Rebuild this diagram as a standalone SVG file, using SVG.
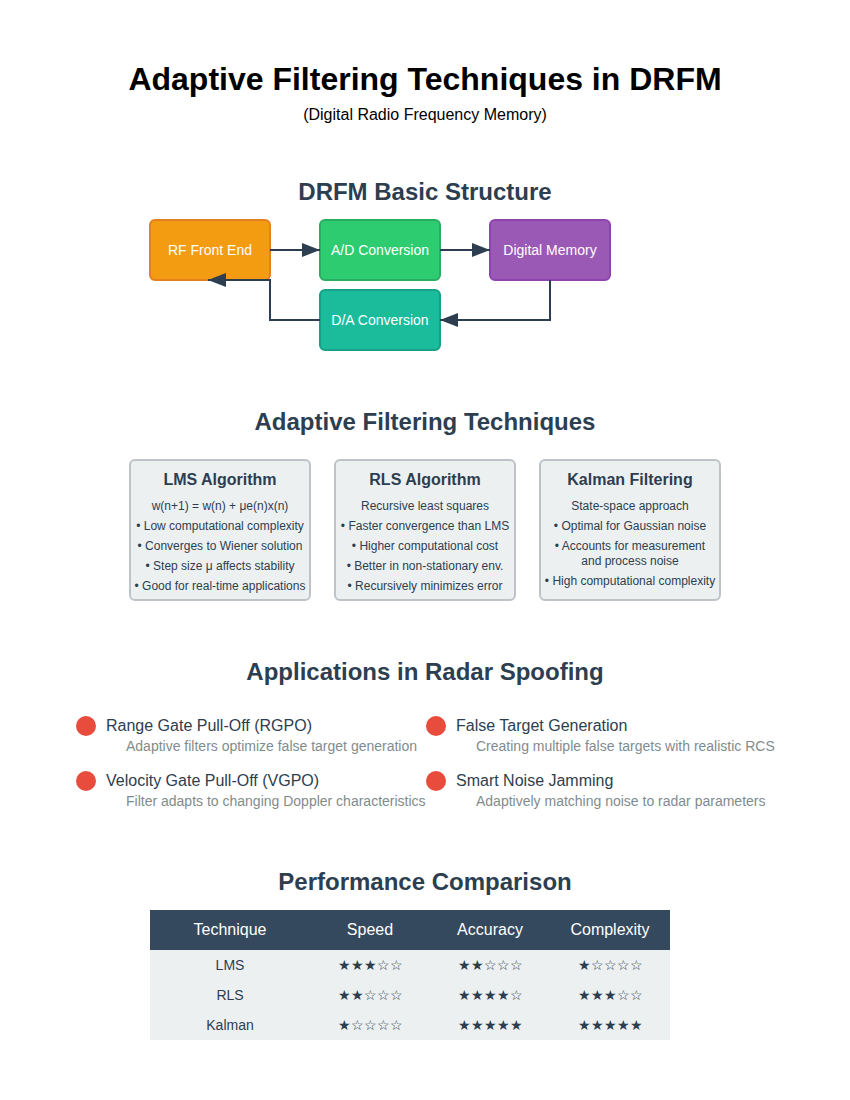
<svg xmlns="http://www.w3.org/2000/svg" width="850" height="1100" viewBox="0 0 850 1100">
<style>
text{font-family:"Liberation Sans",Arial,sans-serif;}
.h{font-size:24px;font-weight:bold;fill:#2c3e50;text-anchor:middle;}
.bt{font-size:14px;fill:#ffffff;text-anchor:middle;}
.node rect{rx:5;ry:5;stroke-width:2;}
.card{fill:#ecf0f1;stroke:#bdc3c7;stroke-width:2;}
.ct{font-size:16px;font-weight:bold;fill:#2c3e50;text-anchor:middle;}
.cl{font-size:12px;fill:#2c3e50;text-anchor:middle;}
.dot{fill:#e74c3c;}
.at{font-size:16px;fill:#2c3e50;}
.as{font-size:14px;fill:#7f8c8d;}
.th{font-size:16px;fill:#ffffff;text-anchor:middle;}
.td{font-size:14px;fill:#2c3e50;text-anchor:middle;}
.conn{fill:none;stroke:#2c3e50;stroke-width:2;}
</style>
<defs>
<marker id="arr" viewBox="0 0 10 10" refX="10" refY="5" markerWidth="9" markerHeight="7" markerUnits="strokeWidth" orient="auto" preserveAspectRatio="none">
<path d="M0,0 L10,5 L0,10 Z" fill="#2c3e50"/>
</marker>
</defs>
<rect width="850" height="1100" fill="#ffffff"/>
<text x="425" y="90" text-anchor="middle" style="font-size:32px;font-weight:bold;fill:#000000">Adaptive Filtering Techniques in DRFM</text>
<text x="425" y="120" text-anchor="middle" style="font-size:16px;fill:#000000">(Digital Radio Frequency Memory)</text>

<text class="h" x="425" y="200">DRFM Basic Structure</text>
<g id="rf" class="node"><rect x="150" y="220" width="120" height="60" fill="#f39c12" stroke="#e67e22"/><text class="bt" x="210" y="255">RF Front End</text></g>
<g id="ad" class="node"><rect x="320" y="220" width="120" height="60" fill="#2ecc71" stroke="#27ae60"/><text class="bt" x="380" y="255">A/D Conversion</text></g>
<g id="mem" class="node"><rect x="490" y="220" width="120" height="60" fill="#9b59b6" stroke="#8e44ad"/><text class="bt" x="550" y="255">Digital Memory</text></g>
<g id="da" class="node"><rect x="320" y="290" width="120" height="60" fill="#1abc9c" stroke="#16a085"/><text class="bt" x="380" y="325">D/A Conversion</text></g>
<g id="connectors">
<path class="conn" d="M270,250 L320,250" marker-end="url(#arr)"/>
<path class="conn" d="M440,250 L490,250" marker-end="url(#arr)"/>
<path class="conn" d="M550,280 L550,320 L440,320" marker-end="url(#arr)"/>
<path class="conn" d="M320,320 L270,320 L270,280 L208,280" marker-end="url(#arr)"/>
</g>

<text class="h" x="425" y="430">Adaptive Filtering Techniques</text>
<g id="lms">
<rect class="card" x="130" y="460" width="180" height="140" rx="5"/>
<text class="ct" x="220" y="485">LMS Algorithm</text>
<text class="cl" x="220" y="510">w(n+1) = w(n) + μe(n)x(n)</text>
<text class="cl" x="220" y="530">• Low computational complexity</text>
<text class="cl" x="220" y="550">• Converges to Wiener solution</text>
<text class="cl" x="220" y="570">• Step size μ affects stability</text>
<text class="cl" x="220" y="590">• Good for real-time applications</text>
</g>
<g id="rls">
<rect class="card" x="335" y="460" width="180" height="140" rx="5"/>
<text class="ct" x="425" y="485">RLS Algorithm</text>
<text class="cl" x="425" y="510">Recursive least squares</text>
<text class="cl" x="425" y="530">• Faster convergence than LMS</text>
<text class="cl" x="425" y="550">• Higher computational cost</text>
<text class="cl" x="425" y="570">• Better in non-stationary env.</text>
<text class="cl" x="425" y="590">• Recursively minimizes error</text>
</g>
<g id="kalman">
<rect class="card" x="540" y="460" width="180" height="140" rx="5"/>
<text class="ct" x="630" y="485">Kalman Filtering</text>
<text class="cl" x="630" y="510">State-space approach</text>
<text class="cl" x="630" y="530">• Optimal for Gaussian noise</text>
<text class="cl" x="630" y="550">• Accounts for measurement</text>
<text class="cl" x="630" y="565">and process noise</text>
<text class="cl" x="630" y="585">• High computational complexity</text>
</g>

<text class="h" x="425" y="680">Applications in Radar Spoofing</text>
<g id="rgpo">
<circle class="dot" cx="86" cy="726" r="10"/>
<text class="at" x="106" y="731">Range Gate Pull-Off (RGPO)</text>
<text class="as" x="126" y="751">Adaptive filters optimize false target generation</text>
</g>
<g id="vgpo">
<circle class="dot" cx="86" cy="781" r="10"/>
<text class="at" x="106" y="786">Velocity Gate Pull-Off (VGPO)</text>
<text class="as" x="126" y="806">Filter adapts to changing Doppler characteristics</text>
</g>
<g id="ftg">
<circle class="dot" cx="436" cy="726" r="10"/>
<text class="at" x="456" y="731">False Target Generation</text>
<text class="as" x="476" y="751">Creating multiple false targets with realistic RCS</text>
</g>
<g id="snj">
<circle class="dot" cx="436" cy="781" r="10"/>
<text class="at" x="456" y="786">Smart Noise Jamming</text>
<text class="as" x="476" y="806">Adaptively matching noise to radar parameters</text>
</g>

<text class="h" x="425" y="890">Performance Comparison</text>
<g id="table">
<rect x="150" y="910" width="520" height="40" fill="#34495e"/>
<rect x="150" y="950" width="520" height="90" fill="#ecf0f1"/>
<text class="th" x="230" y="935">Technique</text>
<text class="th" x="370" y="935">Speed</text>
<text class="th" x="490" y="935">Accuracy</text>
<text class="th" x="610" y="935">Complexity</text>
<text class="td" x="230" y="970">LMS</text>
<text class="td" x="370" y="970">★★★☆☆</text>
<text class="td" x="490" y="970">★★☆☆☆</text>
<text class="td" x="610" y="970">★☆☆☆☆</text>
<text class="td" x="230" y="1000">RLS</text>
<text class="td" x="370" y="1000">★★☆☆☆</text>
<text class="td" x="490" y="1000">★★★★☆</text>
<text class="td" x="610" y="1000">★★★☆☆</text>
<text class="td" x="230" y="1030">Kalman</text>
<text class="td" x="370" y="1030">★☆☆☆☆</text>
<text class="td" x="490" y="1030">★★★★★</text>
<text class="td" x="610" y="1030">★★★★★</text>
</g>
</svg>
